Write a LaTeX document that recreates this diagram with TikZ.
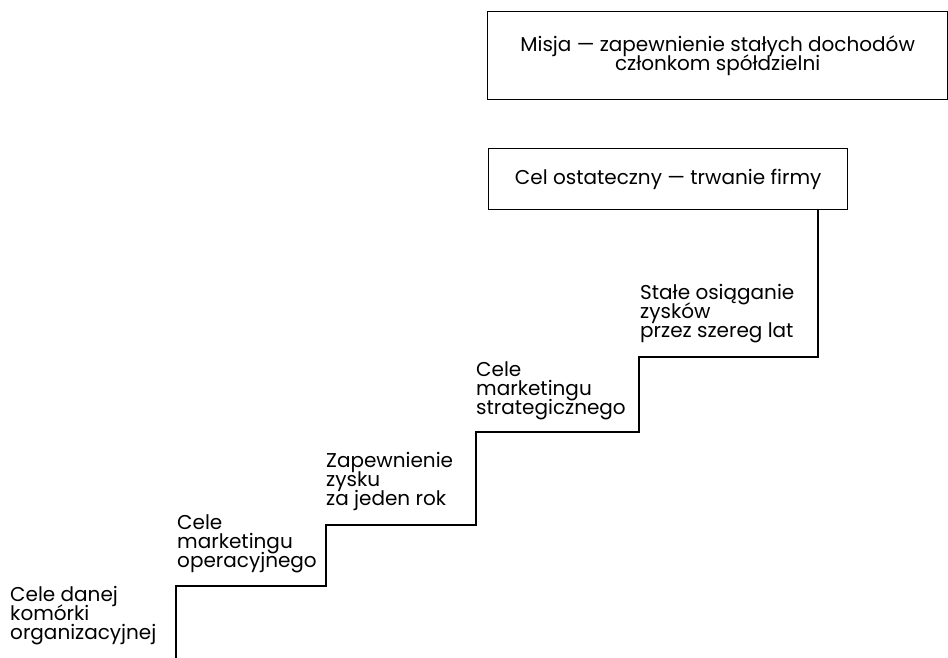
\documentclass[tikz,border=0pt]{standalone}
\usepackage{fontspec}
\setmainfont{Poppins}
\newcommand{\lblfont}{\fontsize{20}{19}\selectfont\lineskiplimit=-30pt\relax}
\begin{document}
\begin{tikzpicture}[x=1pt,y=-1pt,
  box/.style={draw, line width=1.3pt, inner sep=0pt, align=center, font=\lblfont},
  lbl/.style={font=\lblfont, align=left, anchor=base west, inner sep=0pt},
  stair/.style={draw, line width=1.3pt, line join=miter}]
\useasboundingbox (0,0) rectangle (948,658);
\node[box, minimum width=460pt, minimum height=88pt, anchor=north west] (misja) at (487,11)
  {Misja — zapewnienie stałych dochodów\\członkom spółdzielni};
\node[box, minimum width=359pt, minimum height=61pt, anchor=north west] (cel) at (488,148)
  {Cel ostateczny — trwanie firmy};
\coordinate (s1) at (818,357);
\coordinate (s2) at (639,357);
\coordinate (s3) at (639,432);
\coordinate (s4) at (476,432);
\coordinate (s5) at (476,525);
\coordinate (s6) at (326,525);
\coordinate (s7) at (326,586);
\coordinate (s8) at (176,586);
\coordinate (s9) at (176,658);
\draw[stair] (cel.south -| s1) -- (s1) -- (s2) -- (s3) -- (s4) -- (s5) -- (s6) -- (s7) -- (s8) -- (s9);
\node[lbl] (t1) at (640,337) {Stałe osiąganie\\zysków\\przez szereg lat};
\node[lbl] (t2) at (476,414) {Cele\\marketingu\\strategicznego};
\node[lbl] (t3) at (326,505) {Zapewnienie\\zysku\\za jeden rok};
\node[lbl] (t4) at (177,567) {Cele\\marketingu\\operacyjnego};
\node[lbl] (t5) at (10,639) {Cele danej\\komórki\\organizacyjnej};
\end{tikzpicture}
\end{document}
